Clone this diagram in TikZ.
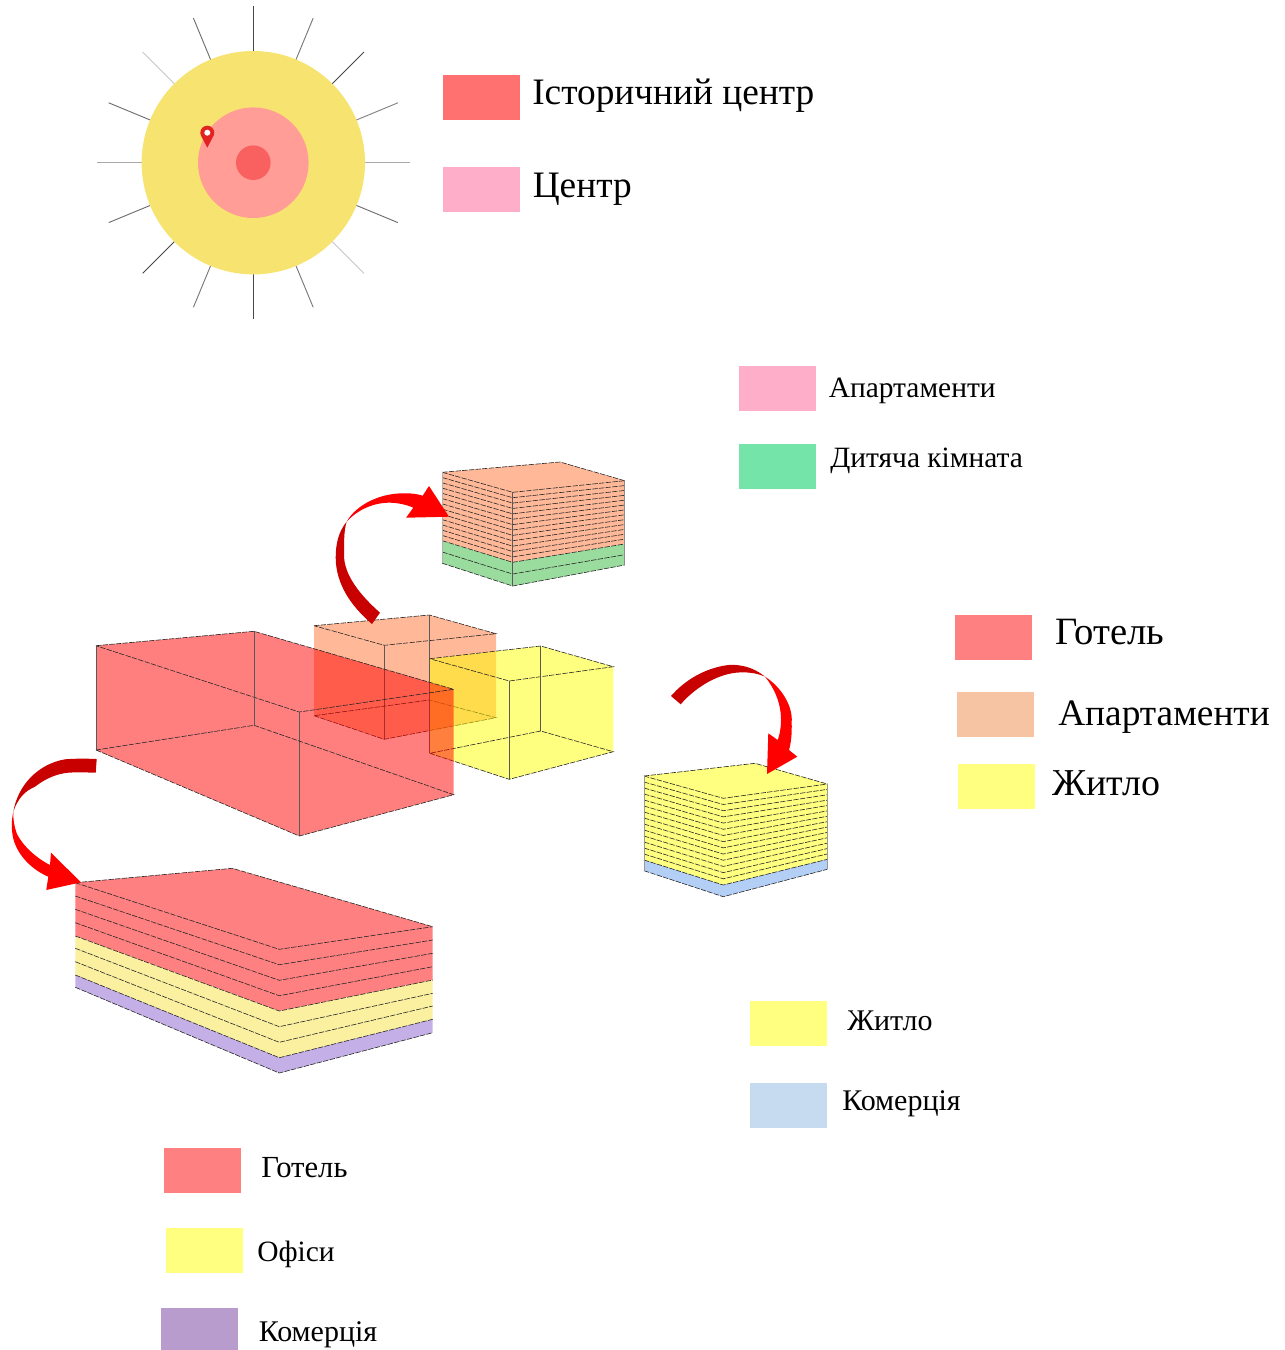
\documentclass[tikz,border=0pt]{standalone}
\usepackage{fontspec}
\setmainfont{Liberation Serif}
\definecolor{sunouter}{HTML}{F7E370}
\definecolor{sunmid}{HTML}{FF9D96}
\definecolor{suninner}{HTML}{F96060}
\definecolor{pinred}{HTML}{E32222}
\definecolor{oldred}{HTML}{FF7171}
\definecolor{hotelred}{HTML}{FF8080}
\definecolor{pinkapt}{HTML}{FFAEC9}
\definecolor{greenkid}{HTML}{75E4A8}
\definecolor{peachapt}{HTML}{F7C4A3}
\definecolor{yellowhome}{HTML}{FFFF80}
\definecolor{bluelegend}{HTML}{C6DAF0}
\definecolor{purplelegend}{HTML}{B79CCD}
\definecolor{peachstack}{HTML}{FFB999}
\definecolor{greenstack}{HTML}{9ADB9E}
\definecolor{bluestack}{HTML}{B4CFF5}
\definecolor{yellowoffice}{HTML}{FAF0A0}
\definecolor{purplestack}{HTML}{C4B0E6}
\definecolor{arrowdark}{HTML}{C80000}
\definecolor{arrowred}{HTML}{FF0000}
\definecolor{ghostpeach}{HTML}{FF7333}
\definecolor{ghostyellow}{HTML}{FFFF00}
\definecolor{ghostred}{HTML}{FF0000}
\tikzset{
	swatch/.style = {minimum width = 57.75pt, minimum height = 33.75pt, inner sep = 0pt, anchor = north west},
	biglabel/.style = {anchor = base west, inner sep = 0pt, font = \fontsize{28}{30}\selectfont},
	smalllabel/.style = {anchor = base west, inner sep = 0pt, font = \fontsize{22.5}{24}\selectfont},
	toplabel/.style = {anchor = base west, inner sep = 0pt, font = \fontsize{22.1}{24}\selectfont},
	edge/.style = {line width = 0.45pt, draw = black!65},
	seam/.style = {line width = 0.45pt, draw = black!85, dash pattern = on 4pt off 1pt},
	ghostbox/.style = {fill opacity = 0.5}
}
\begin{document}
\begin{tikzpicture} [x = 0.75pt, y = -0.75pt]
	\useasboundingbox (0,0) rectangle (1285,1350);
	% rays and rings
	\foreach \a/\c in {0/170,22.5/110,45/205,67.5/120,90/70,112.5/120,135/70,157.5/110,180/170,202.5/110,225/205,247.5/110,270/70,292.5/120,315/70,337.5/130} {
		\definecolor{raygray}{RGB}{\c,\c,\c}
		\draw [line width = 0.7pt, raygray] ([shift = {(253.3,162.7)}] \a:111) -- ([shift = {(253.3,162.7)}] \a:156.5);
	}
	\fill [sunouter] (253.3,162.7) circle (111.7);
	\fill [sunmid] (253.3,162.7) circle (55.3);
	\fill [suninner] (253.3,162.7) circle (17.3);
	\fill [pinred] (207.3,147.7) -- (200.7,135.1) arc (160:380:7) -- cycle;
	\fill [white] (207.3,132.7) circle (3);
	% legend at the top
	\node (oldswatch) [swatch, fill = oldred] at (443,75) {};
	\node (centreswatch) [swatch, fill = pinkapt] at (443,167) {};
	\node (oldlabel) [biglabel] at (532,104) {Історичний центр};
	\node (centrelabel) [biglabel] at (532.5,197) {Центр};
	\node (aptswatch) [swatch, fill = pinkapt] at (739,366) {};
	\node (kidswatch) [swatch, fill = greenkid] at (739,444) {};
	\node (aptlabel) [toplabel] at (828.5,397) {Апартаменти};
	\node (kidlabel) [toplabel] at (830,467) {Дитяча кімната};
	\node (hotelswatch) [swatch, fill = hotelred] at (955,615) {};
	\node (peachswatch) [swatch, fill = peachapt] at (957,692) {};
	\node (homeswatch) [swatch, fill = yellowhome] at (958,764) {};
	\node (hotellabel) [biglabel, font = \fontsize{29}{30}\selectfont] at (1055.5,644) {Готель};
	\node (peachlabel) [biglabel] at (1058,725) {Апартаменти};
	\node (homelabel) [biglabel, font = \fontsize{28.5}{30}\selectfont] at (1052,795) {Житло};
	\node (homeswatchb) [swatch, fill = yellowhome] at (750,1001) {};
	\node (tradeswatchb) [swatch, fill = bluelegend] at (750,1083) {};
	\node (homelabelb) [smalllabel] at (847,1030) {Житло};
	\node (tradelabelb) [smalllabel] at (842,1110) {Комерція};
	\node (hotelswatchc) [swatch, fill = hotelred] at (164,1148) {};
	\node (officeswatch) [swatch, fill = yellowhome] at (166,1228) {};
	\node (tradeswatchc) [swatch, fill = purplelegend, minimum height = 31.5pt] at (161,1308) {};
	\node (hotellabelc) [smalllabel, font = \fontsize{23}{24}\selectfont] at (261,1177) {Готель};
	\node (officelabel) [smalllabel, font = \fontsize{22.1}{24}\selectfont] at (257,1261) {Офіси};
	\node (tradelabelc) [smalllabel] at (258.5,1341) {Комерція};
	% peach box
	\fill [ghostbox, fill = ghostpeach] (314,625.7) -- (429.3,615) -- (496,633.7) -- (496,717.7) -- (384.3,739.3) -- (314,715.7) -- cycle;
	\draw [seam] (314,625.7) -- (429.3,615) -- (496,633.7) -- (384.3,645.3) -- cycle;
	\draw [edge] (429.3,615) -- (429.3,700);
	\draw [edge] (384.3,645.3) -- (384.3,739.3);
	\draw [seam] (314,715.7) -- (384.3,739.3) -- (496,717.7) -- (429.3,700) -- cycle;
	% yellow box
	\fill [ghostbox, fill = ghostyellow] (429.7,658.7) -- (540.7,646) -- (613.3,666.7) -- (613.3,751.7) -- (509.3,779.3) -- (429.7,753.3) -- cycle;
	\draw [seam] (429.7,658.7) -- (540.7,646) -- (613.3,666.7) -- (509.3,681) -- cycle;
	\draw [edge] (429.7,658.7) -- (429.7,753.3);
	\draw [edge] (540.7,646) -- (540.7,731);
	\draw [edge] (509.3,681) -- (509.3,779.3);
	\draw [seam] (429.7,753.3) -- (509.3,779.3) -- (613.3,751.7) -- (540.7,731) -- cycle;
	% red box
	\fill [ghostbox, fill = ghostred] (96,645.7) -- (254,631.3) -- (453.7,689.3) -- (453.7,794.7) -- (299.3,836) -- (96,750) -- cycle;
	\draw [seam] (96,645.7) -- (254,631.3) -- (453.7,689.3) -- (299.3,712) -- cycle;
	\draw [edge] (96,645.7) -- (96,750);
	\draw [edge] (254,631.3) -- (254,725.3);
	\draw [edge] (299.3,712) -- (299.3,836);
	\draw [seam] (96,750) -- (299.3,836) -- (453.7,794.7) -- (254,725.3) -- cycle;
	% peach and green stack
	\fill [peachstack] (442.3,472.3) -- (560,462) -- (624.7,480.7) -- (624.7,544) -- (512.7,562.3) -- (442.3,540.7) -- cycle;
	\fill [greenstack] (442.3,540.7) -- (512.7,562.3) -- (624.7,544) -- (624.7,565) -- (512.7,586) -- (442.3,563.3) -- cycle;
	\draw [seam] (442.3,472.3) -- (560,462) -- (624.7,480.7);
	\foreach \i in {0,...,13} {
		\draw [seam] (442.3,472.3+\i*5.262) -- (512.7,492.3+\i*5.385) -- (624.7,480.7+\i*4.867);
	}
	\draw [seam] (442.3,552) -- (512.7,574) -- (624.7,554.7);
	\draw [seam] (442.3,563.3) -- (512.7,586) -- (624.7,565);
	\draw [edge, draw = black!30] (442.3,472.3) -- (442.3,563.3);
	\draw [edge] (512.7,492.3) -- (512.7,586);
	\draw [edge, draw = black!45] (624.7,480.7) -- (624.7,565);
	% yellow and blue stack
	\fill [yellowhome] (644,776) -- (755,763.3) -- (827.3,784) -- (827.3,859.3) -- (723.3,885) -- (644,860) -- cycle;
	\fill [bluestack] (644,860) -- (723.3,885) -- (827.3,859.3) -- (827.3,869.3) -- (723.3,896.7) -- (644,870.7) -- cycle;
	\draw [seam] (644,776) -- (755,763.3) -- (827.3,784);
	\foreach \i in {0,...,14} {
		\draw [seam] (644,776+\i*6) -- (723.3,798.3+\i*6.193) -- (827.3,784+\i*5.379);
	}
	\draw [seam] (644,870.7) -- (723.3,896.7) -- (827.3,869.3);
	\draw [edge, draw = black!40] (644,776) -- (644,870.7);
	\draw [edge, draw = black!40] (827.3,784) -- (827.3,869.3);
	% hotel stack
	\fill [hotelred] (75.3,882.7) -- (232.3,868.3) -- (432.7,926.7) -- (432.7,980) -- (279.3,1011) -- (75.3,936) -- cycle;
	\fill [yellowoffice] (75.3,936) -- (279.3,1011) -- (432.7,980) -- (432.7,1019.3) -- (279.3,1057.7) -- (75.3,975) -- cycle;
	\fill [purplestack] (75.3,975) -- (279.3,1057.7) -- (432.7,1019.3) -- (432.7,1032.7) -- (279.3,1073) -- (75.3,987.3) -- cycle;
	\draw [seam] (75.3,882.7) -- (232.3,868.3) -- (432.7,926.7);
	\foreach \l/\f/\r in {882.7/949.3/926.7,896/964.7/940,909.3/980.3/953.3,922.7/995.7/966.7,936/1011/980,948.3/1026.7/993.3,961.7/1042.3/1006,975/1057.7/1019.3,987.3/1073/1032.7} {
		\draw [seam] (75.3,\l) -- (279.3,\f) -- (432.7,\r);
	}
	% arrows, each one a dark and a red piece
	\fill [arrowdark] (346.7,521.7) .. controls (338,532) and (335.7,545) .. (335.7,558) .. controls (336,585) and (352,607) .. (372,624) -- (380,612.7) .. controls (360,595) and (344,575) .. (344,555) .. controls (344,540) and (344,530) .. (346.7,521.7) -- cycle;
	\fill [arrowred] (346.7,521.7) .. controls (354,508) and (375,494) .. (401.7,493.3) .. controls (410,493) and (418,494) .. (422.7,495.7) -- (429,486) -- (449,516.7) -- (406,517.7) -- (413.3,507.7) .. controls (405,504) and (395,502.5) .. (388,502.7) .. controls (372,503) and (356,511) .. (346.7,521.7) -- cycle;
	\fill [arrowdark] (96.7,759) .. controls (85,758.5) and (75,758.5) .. (65,759.3) .. controls (38,764) and (18,785) .. (13.3,811.7) .. controls (18,798) and (25,791) .. (35,786.7) .. controls (46,778) and (58,773.5) .. (68.3,772.7) .. controls (78,772) and (87,772.5) .. (95.7,772.7) -- cycle;
	\fill [arrowred] (13.3,811.7) .. controls (11.5,820) and (11.5,828) .. (12.3,833) .. controls (14,850) and (28,868) .. (48.3,876.7) -- (46.3,890) -- (81,882.3) -- (51,852.7) -- (50,865) .. controls (36,858) and (22,845) .. (16.7,833.3) .. controls (14,826) and (13,818) .. (13.3,811.7) -- cycle;
	\fill [arrowdark] (671,696) .. controls (685,680) and (705,668) .. (728.3,665) .. controls (745,664) and (757,670) .. (765,676.7) .. controls (755,672) and (742,671.5) .. (731.7,673.3) .. controls (712,677) and (693,690) .. (680.7,704.3) -- cycle;
	\fill [arrowred] (765,676.7) .. controls (780,686) and (793,705) .. (791.7,722) .. controls (792,735) and (791,743) .. (789,750) -- (797.3,756.7) -- (767,774) -- (768.3,733.3) -- (777.7,740) .. controls (783,725) and (784,700) .. (765,676.7) -- cycle;
\end{tikzpicture}
\end{document}
